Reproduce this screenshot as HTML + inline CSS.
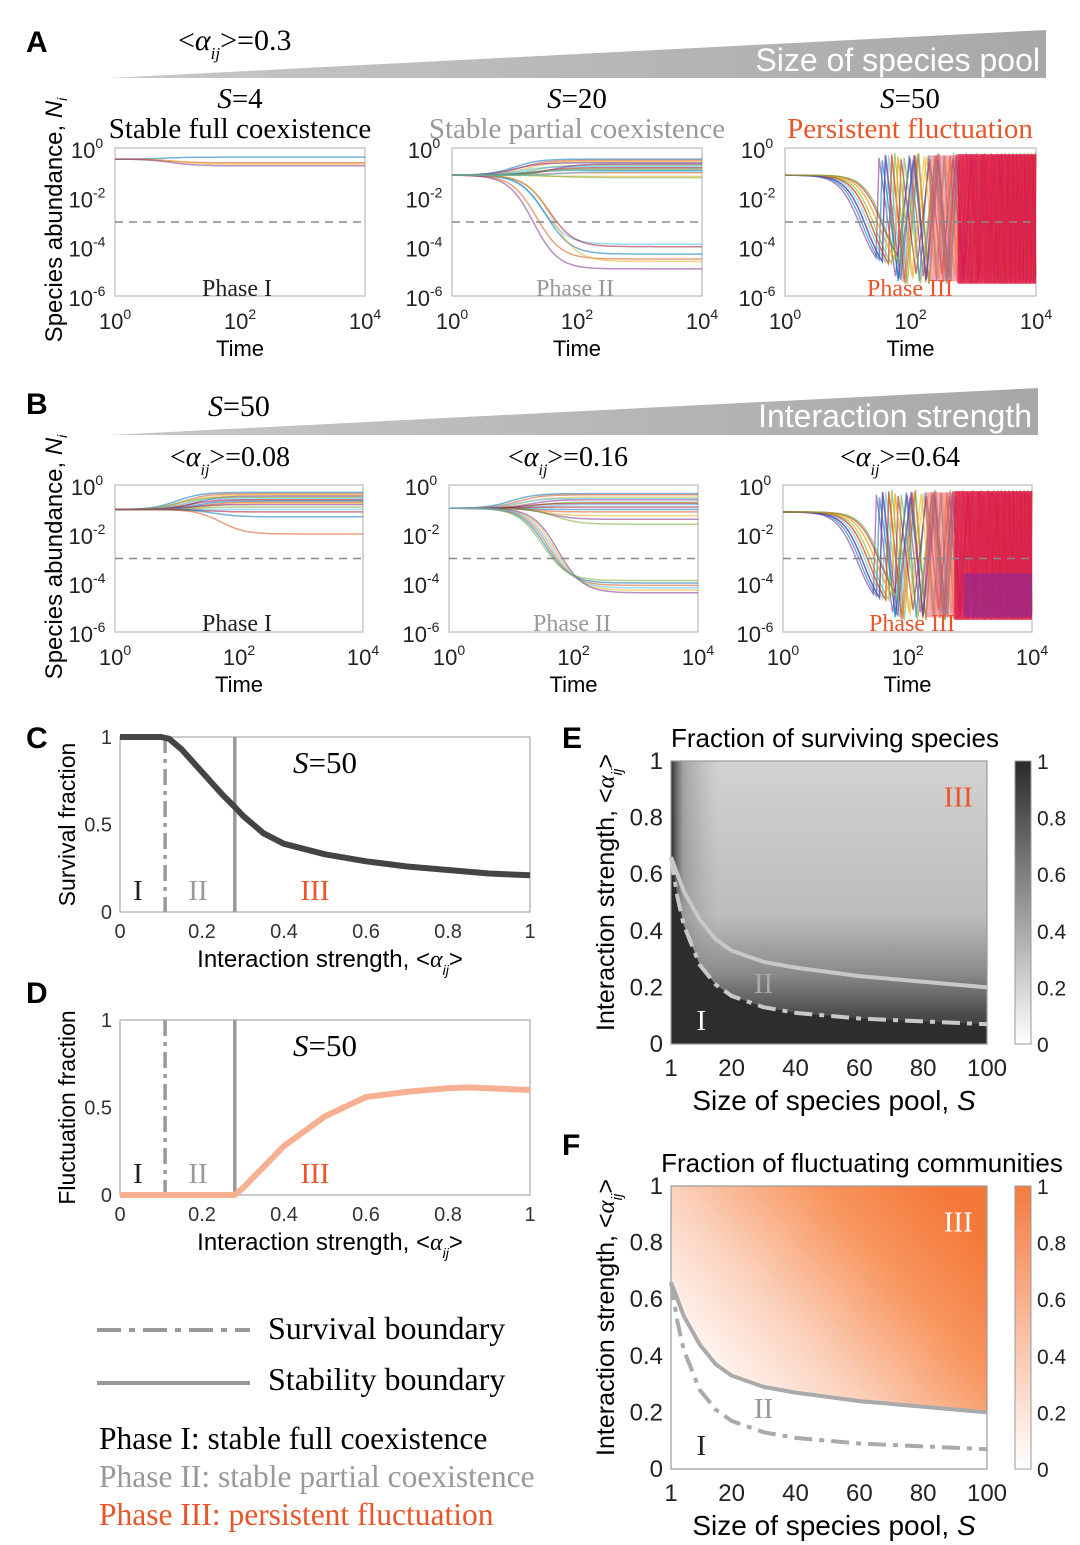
<!DOCTYPE html>
<html><head><meta charset="utf-8"><style>
body{margin:0;background:#fff}
svg{display:block}
.ser{font-family:"Liberation Serif",serif}
.san{font-family:"Liberation Sans",sans-serif}
</style></head><body>
<svg id="fig" width="1080" height="1545" viewBox="0 0 1080 1545" xmlns="http://www.w3.org/2000/svg">
<defs>
<linearGradient id="gE" x1="0" y1="0" x2="0" y2="1"><stop offset="0" stop-color="#d2d2d2"/><stop offset="0.55" stop-color="#bcbcbc"/><stop offset="0.75" stop-color="#8a8a8a"/><stop offset="0.9" stop-color="#4a4a4a"/><stop offset="1" stop-color="#333"/></linearGradient>
<linearGradient id="gEL" x1="0" y1="0" x2="1" y2="0"><stop offset="0" stop-color="#2d2d2d" stop-opacity="1"/><stop offset="0.04" stop-color="#777" stop-opacity="0.5"/><stop offset="0.15" stop-color="#999" stop-opacity="0"/></linearGradient>
<linearGradient id="cbE" x1="0" y1="1" x2="0" y2="0"><stop offset="0" stop-color="#fff"/><stop offset="1" stop-color="#2a2a2a"/></linearGradient>
<linearGradient id="cbF" x1="0" y1="1" x2="0" y2="0"><stop offset="0" stop-color="#fff"/><stop offset="1" stop-color="#f47a40"/></linearGradient>
<linearGradient id="gF" x1="0" y1="0.75" x2="0.95" y2="0.15"><stop offset="0" stop-color="#fff"/><stop offset="0.35" stop-color="#fbd2bd"/><stop offset="0.7" stop-color="#f8965f"/><stop offset="1" stop-color="#f47838"/></linearGradient>
<linearGradient id="wedge" x1="0" y1="0" x2="1" y2="0"><stop offset="0" stop-color="#c8c8c8"/><stop offset="1" stop-color="#a8a8a8"/></linearGradient>
</defs>

<text x="26" y="52" class="san" font-size="30" font-weight="bold">A</text>
<text x="178" y="50" class="ser" font-size="30">&lt;<tspan font-style="italic">α</tspan><tspan font-size="17" dy="9" font-style="italic">ij</tspan><tspan dy="-9">&gt;=0.3</tspan></text>
<polygon points="110,78 1046,30 1046,78" fill="url(#wedge)"/>
<text x="1040" y="71" text-anchor="end" class="san" font-size="32" fill="#fff">Size of species pool</text>
<text x="240" y="108" text-anchor="middle" class="ser" font-size="29"><tspan font-style="italic">S</tspan>=4</text>
<text x="240" y="138" text-anchor="middle" class="ser" font-size="29">Stable full coexistence</text>
<text x="577" y="108" text-anchor="middle" class="ser" font-size="29"><tspan font-style="italic">S</tspan>=20</text>
<text x="577" y="138" text-anchor="middle" class="ser" font-size="29" fill="#999">Stable partial coexistence</text>
<text x="910" y="108" text-anchor="middle" class="ser" font-size="29"><tspan font-style="italic">S</tspan>=50</text>
<text x="910" y="138" text-anchor="middle" class="ser" font-size="29" fill="#e8562a">Persistent fluctuation</text>
<text transform="translate(62,220) rotate(-90)" text-anchor="middle" class="san" font-size="24">Species abundance, <tspan font-style="italic">N</tspan><tspan font-size="14" dy="5" font-style="italic">i</tspan></text>

<text x="26" y="414" class="san" font-size="30" font-weight="bold">B</text>
<text x="208" y="416" class="ser" font-size="30"><tspan font-style="italic">S</tspan>=50</text>
<polygon points="110,435 1038,388 1038,435" fill="url(#wedge)"/>
<text x="1032" y="427" text-anchor="end" class="san" font-size="32" fill="#fff">Interaction strength</text>
<text x="230" y="466" text-anchor="middle" class="ser" font-size="28">&lt;<tspan font-style="italic">α</tspan><tspan font-size="16" dy="9" font-style="italic">ij</tspan><tspan dy="-9">&gt;=0.08</tspan></text>
<text x="568" y="466" text-anchor="middle" class="ser" font-size="28">&lt;<tspan font-style="italic">α</tspan><tspan font-size="16" dy="9" font-style="italic">ij</tspan><tspan dy="-9">&gt;=0.16</tspan></text>
<text x="900" y="466" text-anchor="middle" class="ser" font-size="28">&lt;<tspan font-style="italic">α</tspan><tspan font-size="16" dy="9" font-style="italic">ij</tspan><tspan dy="-9">&gt;=0.64</tspan></text>
<text transform="translate(62,557) rotate(-90)" text-anchor="middle" class="san" font-size="24">Species abundance, <tspan font-style="italic">N</tspan><tspan font-size="14" dy="5" font-style="italic">i</tspan></text>

<text x="26" y="748" class="san" font-size="30" font-weight="bold">C</text>
<text x="26" y="1003" class="san" font-size="30" font-weight="bold">D</text>
<text x="562" y="748" class="san" font-size="30" font-weight="bold">E</text>
<text x="562" y="1155" class="san" font-size="30" font-weight="bold">F</text>

<line x1="97" y1="1330" x2="250" y2="1330" stroke="#999" stroke-width="4" stroke-dasharray="24,8,6,8"/>
<text x="268" y="1339" class="ser" font-size="32">Survival boundary</text>
<line x1="97" y1="1383" x2="250" y2="1383" stroke="#999" stroke-width="4"/>
<text x="268" y="1390" class="ser" font-size="32">Stability boundary</text>
<text x="99" y="1449" class="ser" font-size="31.5">Phase I: stable full coexistence</text>
<text x="99" y="1487" class="ser" font-size="31.5" fill="#999">Phase II: stable partial coexistence</text>
<text x="99" y="1525" class="ser" font-size="31.5" fill="#e8562a">Phase III: persistent fluctuation</text>
</svg>
<script>
const svg=document.getElementById('fig');
const NS='http://www.w3.org/2000/svg';
function mk(tag,at,par){const e=document.createElementNS(NS,tag);for(const k in at)e.setAttribute(k,at[k]);(par||svg).appendChild(e);return e;}
const COLORS=['#0072BD','#D95319','#EDB120','#7E2F8E','#77AC30','#4DBEEE','#A2142F'];

const a1End=[-0.37,-0.6,-0.65,-0.72];
const a1Tc=[0.8,0.9,1.0,0.9];
const a2End=[-0.45,-0.5,-0.55,-0.6,-0.7,-0.75,-0.8,-0.9,-1.0,-1.15,-0.65,-0.85,-3.9,-4.0,-4.3,-4.5,-4.6,-4.9,-1.2,-0.95];
const a2Tc=[1.0,1.1,1.2,1.0,1.3,1.1,1.4,1.2,1.5,1.3,1.6,1.4,1.45,1.55,1.5,1.35,1.6,1.3,1.7,1.8];
const b1End=[-0.3,-0.35,-0.4,-0.45,-0.5,-0.55,-0.6,-0.65,-0.7,-0.75,-0.8,-0.9,-1.0,-1.1,-1.3,-2.0];
const b1Tc=[1.0,1.1,1.2,1.3,1.0,1.1,1.2,1.3,1.4,1.5,1.2,1.3,1.4,1.5,1.6,1.7];
const b2End=[-0.35,-0.4,-0.5,-0.6,-0.7,-0.8,-0.9,-1.0,-1.1,-1.25,-1.4,-1.6,-0.55,-0.75,-4.0,-4.1,-4.3,-4.4,-3.9,-4.2];
const b2Tc=[1.0,1.1,1.2,1.3,1.4,1.5,1.2,1.3,1.4,1.5,1.6,1.7,1.1,1.25,1.55,1.6,1.7,1.75,1.5,1.65];
const p3Hi=[-0.3,-0.25,-0.35,-0.4,-0.2,-0.3,-0.45,-0.5,-0.3,-0.35,-0.28,-0.4];
const p3Lo=[-5.4,-5.5,-5.3,-5.2,-5.5,-5.4,-5.1,-5.3,-5.45,-5.2,-5.35,-5.5];
const p3Tc=[1.3,1.4,1.5,1.2,1.45,1.35,1.55,1.25,1.4,1.5,1.3,1.6];
const timeTicks=['0','2','4'];
const abundTicks=['0','-2','-4','-6'];

function tsAxes(px,py,pw,ph,name){
  let r=mk('rect',{x:px,y:py,width:pw,height:ph,fill:'#fff',stroke:'#bbb','stroke-width':1.2});
  
  
  timeTicks.forEach(t=>{
    const x=px+(+t)/4*pw;
    let tx=mk('text',{x:x,y:py+ph+33,'text-anchor':'middle','font-size':22,'font-family':'Liberation Sans, sans-serif',fill:'#222'});
    tx.innerHTML='10<tspan font-size="14" dy="-10">'+t+'</tspan>';
    
    
  });
  abundTicks.forEach(t=>{
    const y=py+(-t)/6*ph;
    let tx=mk('text',{x:px-28,y:y+10,'text-anchor':'middle','font-size':22,'font-family':'Liberation Sans, sans-serif',fill:'#222'});
    tx.innerHTML='10<tspan font-size="14" dy="-10">'+t+'</tspan>';
    
    
  });
  let xl=mk('text',{x:px+pw/2,y:py+ph+60,'text-anchor':'middle','font-size':22,'font-family':'Liberation Sans, sans-serif'});
  xl.textContent='Time';
  
  
}
function tsStable(px,py,pw,ph,start,ends,tcs,name){
  const xT=l=>px+l/4*pw, yN=l=>py+(-l)/6*ph;
  ends.forEach((e,i)=>{
    let d='';
    for(let k=0;k<=80;k++){const lt=k/20;const s=1/(1+Math.exp(-(lt-tcs[i])*5));const v=start+(e-start)*s;d+=(k?'L':'M')+xT(lt).toFixed(1)+','+yN(v).toFixed(1);}
    let p=mk('path',{d:d,fill:'none',stroke:COLORS[i%7],'stroke-width':1.5,'stroke-opacity':0.55});
    
    
  });
}
function tsFluct(px,py,pw,ph,start,name,purple){
  const xT=l=>px+l/4*pw, yN=l=>py+(-l)/6*ph;
  p3Hi.forEach((hi,i)=>{
    const lo=p3Lo[i];let d='';let lt=0;
    while(lt<p3Tc[i]+0.3){const s=1/(1+Math.exp(-(lt-p3Tc[i])*6));const v=start+(lo-start)*s;d+=(d?'L':'M')+xT(lt).toFixed(1)+','+yN(v).toFixed(1);lt+=0.05;}
    let up=true,step=0.2+0.02*(i%4);
    while(lt<4){d+='L'+xT(lt).toFixed(1)+','+yN(up?hi:lo).toFixed(1);up=!up;lt+=step;step=Math.max(0.03,step*0.9);}
    let p=mk('path',{d:d,fill:'none',stroke:COLORS[i%7],'stroke-width':1.4,'stroke-opacity':0.6});
    
    
  });
  let b=mk('rect',{x:xT(2.75),y:yN(-0.25),width:xT(4)-xT(2.75),height:yN(-5.5)-yN(-0.25),fill:'#e41a4a',opacity:0.88});
  
  
  let pk=mk('rect',{x:xT(2.3),y:yN(-0.3),width:xT(2.75)-xT(2.3),height:yN(-5.4)-yN(-0.3),fill:'#f06070',opacity:0.55});
  
  
  if(purple){let q=mk('rect',{x:xT(2.9),y:yN(-3.6),width:xT(4)-xT(2.9),height:yN(-5.4)-yN(-3.6),fill:'#8a2a9a',opacity:0.6});
    
    }
}
function thresh(px,py,pw,ph,name){
  let l=mk('line',{x1:px,x2:px+pw,y1:py+ph/2,y2:py+ph/2,stroke:'#888','stroke-width':1.6,'stroke-dasharray':'8,6'});
  
  
}
function phaseLabel(x,y,txt,col,name){
  let t=mk('text',{x:x,y:y,'text-anchor':'middle','font-size':24,'font-family':'Liberation Serif, serif',fill:col});
  t.textContent=txt;
  
  
}
const panels=[
 [115,148,250,148,'a1'],[452,148,250,148,'a2'],[785,148,251,148,'a3'],
 [115,485,248,147,'b1'],[449,485,249,147,'b2'],[783,485,249,147,'b3']];
panels.forEach(p=>tsAxes(...p));
tsStable(115,148,250,148,-0.45,a1End,a1Tc,'a1');
tsStable(452,148,250,148,-1.1,a2End,a2Tc,'a2');
tsFluct(785,148,251,148,-1.1,'a3',false);
tsStable(115,485,248,147,-1.0,b1End,b1Tc,'b1');
tsStable(449,485,249,147,-0.95,b2End,b2Tc,'b2');
tsFluct(783,485,249,147,-1.1,'b3',true);
panels.forEach(p=>thresh(...p));
phaseLabel(237,296,'Phase I','#222','a1');phaseLabel(575,296,'Phase II','#999','a2');phaseLabel(910,296,'Phase III','#e8562a','a3');
phaseLabel(237,631,'Phase I','#222','b1');phaseLabel(572,631,'Phase II','#999','b2');phaseLabel(912,631,'Phase III','#e8562a','b3');

const survX=[0,0.1,0.12,0.15,0.2,0.25,0.28,0.3,0.35,0.4,0.5,0.6,0.7,0.8,0.9,1];
const survY=[1,1,0.99,0.93,0.8,0.67,0.6,0.55,0.45,0.39,0.33,0.29,0.26,0.24,0.22,0.21];
const flucX=[0,0.28,0.3,0.35,0.4,0.5,0.6,0.7,0.8,0.85,0.9,1];
const flucY=[0,0,0.04,0.16,0.28,0.45,0.56,0.59,0.61,0.615,0.61,0.6];
const fracTicks=['0','0.2','0.4','0.6','0.8','1'];
const yFracTicks=['0','0.5','1'];
const survBoundary=0.11, stabBoundary=0.28;
function lineChart(px,py,pw,ph,xs,ys,col,lw,name,ylab){
  const sx=v=>px+v*pw, sy=v=>py+ph-v*ph;
  let r=mk('rect',{x:px,y:py,width:pw,height:ph,fill:'#fff',stroke:'#aaa','stroke-width':1.2});
  
  
  let v1=mk('line',{x1:sx(survBoundary),x2:sx(survBoundary),y1:py,y2:py+ph,stroke:'#999','stroke-width':3.5,'stroke-dasharray':'16,6,4,6'});
  
  
  let v2=mk('line',{x1:sx(stabBoundary),x2:sx(stabBoundary),y1:py,y2:py+ph,stroke:'#999','stroke-width':3.5});
  
  
  let d=xs.map((x,i)=>(i?'L':'M')+sx(x).toFixed(1)+','+sy(ys[i]).toFixed(1)).join('');
  let p=mk('path',{d:d,fill:'none',stroke:col,'stroke-width':lw,'stroke-linejoin':'round'});
  
  
  fracTicks.forEach(t=>{let tx=mk('text',{x:sx(+t),y:py+ph+26,'text-anchor':'middle','font-size':20,'font-family':'Liberation Sans, sans-serif',fill:'#333'});tx.textContent=t;
    
    });
  yFracTicks.forEach(t=>{let tx=mk('text',{x:px-8,y:sy(+t)+7,'text-anchor':'end','font-size':20,'font-family':'Liberation Sans, sans-serif',fill:'#333'});tx.textContent=t;
    
    });
  let xl=mk('text',{x:px+pw/2+5,y:py+ph+55,'text-anchor':'middle','font-size':24,'font-family':'Liberation Sans, sans-serif'});
  xl.innerHTML='Interaction strength, &lt;<tspan font-style="italic" font-family="Liberation Serif, serif">α</tspan><tspan font-size="14" dy="8" font-style="italic">ij</tspan><tspan dy="-8">&gt;</tspan>';
  
  
  let yl=mk('text',{transform:'translate('+(px-45)+','+(py+ph/2)+') rotate(-90)','text-anchor':'middle','font-size':23,'font-family':'Liberation Sans, sans-serif'});
  yl.textContent=ylab;
  
  
  let s=mk('text',{x:px+205,y:py+36,'text-anchor':'middle','font-size':31,'font-family':'Liberation Serif, serif'});
  s.innerHTML='<tspan font-style="italic">S</tspan>=50';
  
  
  [[18,'I','#222'],[78,'II','#999'],[195,'III','#e8562a']].forEach(n=>{
    let t=mk('text',{x:px+n[0],y:py+ph-12,'text-anchor':'middle','font-size':29,'font-family':'Liberation Serif, serif',fill:n[2]});t.textContent=n[1];
    
    });
}
lineChart(120,737,410,175,survX,survY,'#444',6,'c','Survival fraction');
lineChart(120,1020,410,175,flucX,flucY,'#f8b092',6,'d','Fluctuation fraction');

const poolS=[1,3,5,10,15,20,30,40,60,80,100];
const stabA=[0.66,0.6,0.54,0.44,0.37,0.33,0.29,0.27,0.24,0.22,0.2];
const survA=[0.66,0.52,0.42,0.28,0.21,0.17,0.13,0.11,0.09,0.08,0.07];
const sTicks=['1','20','40','60','80','100'];
const aTicks=['0','0.2','0.4','0.6','0.8','1'];
function phaseMap(px,py,pw,ph,name,fillId,cbId,title,cx,darkBelow){
  const sx=v=>px+(v-1)/99*pw, sy=v=>py+ph-v*ph;
  let bg=mk('rect',{x:px,y:py,width:pw,height:ph,fill:darkBelow?'url(#gE)':'#fff'});
  
  
  const stabPts=poolS.map((s,i)=>sx(s).toFixed(1)+','+sy(stabA[i]).toFixed(1));
  const survPts=poolS.map((s,i)=>sx(s).toFixed(1)+','+sy(survA[i]).toFixed(1));
  if(darkBelow){
    let l=mk('rect',{x:px,y:py,width:pw,height:ph,fill:'url(#gEL)'});
    
    
    let dk=mk('polygon',{points:px+','+(py+ph)+' '+px+','+sy(0.66)+' '+survPts.join(' ')+' '+(px+pw)+','+(py+ph),fill:'#2d2d2d'});
    
    
  } else {
    let or=mk('polygon',{points:px+','+py+' '+stabPts.join(' ')+' '+(px+pw)+','+py,fill:'url(#'+fillId+')'});
    
    
  }
  let fr=mk('rect',{x:px,y:py,width:pw,height:ph,fill:'none',stroke:'#999','stroke-width':1.2});
  
  
  const lc=darkBelow?'#c8c8c8':'#aaa';
  let st=mk('polyline',{points:stabPts.join(' '),fill:'none',stroke:lc,'stroke-width':4});
  
  
  let sv=mk('polyline',{points:survPts.join(' '),fill:'none',stroke:lc,'stroke-width':4,'stroke-dasharray':'18,7,5,7'});
  
  
  sTicks.forEach(t=>{let tx=mk('text',{x:sx(+t),y:py+ph+32,'text-anchor':'middle','font-size':24,'font-family':'Liberation Sans, sans-serif',fill:'#222'});tx.textContent=t;
    
    });
  aTicks.forEach(t=>{let tx=mk('text',{x:px-8,y:sy(+t)+8,'text-anchor':'end','font-size':24,'font-family':'Liberation Sans, sans-serif',fill:'#222'});tx.textContent=t;
    
    });
  let xl=mk('text',{x:px+pw/2+5,y:py+ph+66,'text-anchor':'middle','font-size':28,'font-family':'Liberation Sans, sans-serif'});
  xl.innerHTML='Size of species pool, <tspan font-style="italic">S</tspan>';
  
  
  let yl=mk('text',{transform:'translate('+(px-57)+','+(py+ph/2-10)+') rotate(-90)','text-anchor':'middle','font-size':25,'font-family':'Liberation Sans, sans-serif'});
  yl.innerHTML='Interaction strength, &lt;<tspan font-style="italic" font-family="Liberation Serif, serif">α</tspan><tspan font-size="15" dy="8" font-style="italic">ij</tspan><tspan dy="-8">&gt;</tspan>';
  
  
  let ti=mk('text',{x:cx,y:py-14,'text-anchor':'middle','font-size':26,'font-family':'Liberation Sans, sans-serif'});
  ti.textContent=title;
  
  
  let cb=mk('rect',{x:px+pw+28,y:py,width:16,height:ph,fill:'url(#'+cbId+')',stroke:'#999','stroke-width':1});
  
  
  ['0','0.2','0.4','0.6','0.8','1'].forEach(t=>{let tx=mk('text',{x:px+pw+50,y:sy(+t)+8,'font-size':21,'font-family':'Liberation Sans, sans-serif',fill:'#222'});tx.textContent=t;
    
    });
  [[sx(10.5),sy(0.05),'I',darkBelow?'#fff':'#222'],[sx(30),sy(0.18),'II',darkBelow?'#aaa':'#999'],[sx(91),sy(0.84),'III',darkBelow?'#e8562a':'#fff']].forEach(n=>{
    let t=mk('text',{x:n[0],y:n[1],'text-anchor':'middle','font-size':29,'font-family':'Liberation Serif, serif',fill:n[3]});t.textContent=n[2];
    
    });
}
phaseMap(671,761,316,283,'e','gE','cbE','Fraction of surviving species',835,true);
phaseMap(671,1186,316,283,'f','gF','cbF','Fraction of fluctuating communities',862,false);
</script>
</body></html>
